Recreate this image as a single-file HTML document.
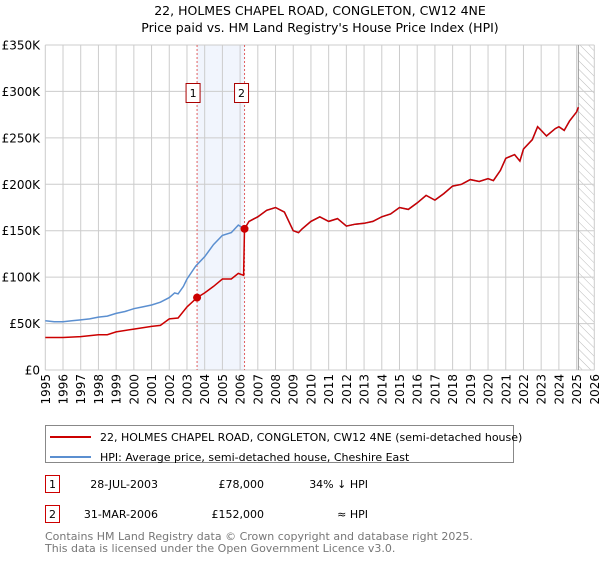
<!DOCTYPE html>
<html><head><meta charset="utf-8">
<style>
body{margin:0;background:#fff;font-family:"Liberation Sans","DejaVu Sans",sans-serif;}
svg text{font-family:"DejaVu Sans","Liberation Sans",sans-serif;}
</style></head>
<body>
<svg width="600" height="560" xmlns="http://www.w3.org/2000/svg">
<defs>
<pattern id="hatch" width="6" height="6" patternUnits="userSpaceOnUse" patternTransform="rotate(-45)">
<line x1="0" y1="0" x2="0" y2="6" stroke="#bbb" stroke-width="1"/>
</pattern>
</defs>
<text x="320" y="15" text-anchor="middle" font-size="12.5" fill="#000">22, HOLMES CHAPEL ROAD, CONGLETON, CW12 4NE</text>
<text x="320" y="32" text-anchor="middle" font-size="12.5" fill="#000">Price paid vs. HM Land Registry's House Price Index (HPI)</text>
<g id="plot"></g>
<g>
<rect x="45.5" y="425.5" width="468" height="37" fill="#fff" stroke="#888"/>
<line x1="50" y1="437" x2="91" y2="437" stroke="#cc0000" stroke-width="2"/>
<text x="100" y="441" font-size="11">22, HOLMES CHAPEL ROAD, CONGLETON, CW12 4NE (semi-detached house)</text>
<line x1="50" y1="457" x2="91" y2="457" stroke="#5b8fd0" stroke-width="2"/>
<text x="100" y="461" font-size="11">HPI: Average price, semi-detached house, Cheshire East</text>
</g>
<g font-size="11">
<rect x="45.5" y="475.5" width="14" height="17" fill="#fff" stroke="#cc0000"/>
<text x="52.5" y="488" text-anchor="middle">1</text>
<text x="158" y="488" text-anchor="end">28-JUL-2003</text>
<text x="264" y="488" text-anchor="end">£78,000</text>
<text x="368" y="488" text-anchor="end">34% ↓ HPI</text>
<rect x="45.5" y="505.5" width="14" height="17" fill="#fff" stroke="#cc0000"/>
<text x="52.5" y="518" text-anchor="middle">2</text>
<text x="158" y="518" text-anchor="end">31-MAR-2006</text>
<text x="264" y="518" text-anchor="end">£152,000</text>
<text x="368" y="518" text-anchor="end">≈ HPI</text>
</g>
<text x="45" y="540" font-size="11" fill="#777">Contains HM Land Registry data © Crown copyright and database right 2025.</text>
<text x="45" y="552" font-size="11" fill="#777">This data is licensed under the Open Government Licence v3.0.</text>
</svg>
<script>
const hpiYears=[1995,1995.5,1996,1996.5,1997,1997.5,1998,1998.5,1999,1999.5,2000,2000.5,2001,2001.5,2002,2002.3,2002.5,2002.8,2003,2003.5,2004,2004.5,2005,2005.5,2005.9,2006.25,2006.5,2007,2007.5,2008,2008.5,2009,2009.3,2009.5,2010,2010.5,2011,2011.5,2012,2012.5,2013,2013.5,2014,2014.5,2015,2015.5,2016,2016.5,2017,2017.5,2018,2018.5,2019,2019.5,2020,2020.3,2020.7,2021,2021.5,2021.8,2022,2022.5,2022.8,2023,2023.3,2023.8,2024,2024.3,2024.6,2025,2025.1];
const hpiValues=[53,52,52,53,54,55,57,58,61,63,66,68,70,73,78,83,82,90,98,112,122,135,145,148,156,152,160,165,172,175,170,150,148,152,160,165,160,163,155,157,158,160,165,168,175,173,180,188,183,190,198,200,205,203,206,204,215,228,232,225,238,248,262,258,252,260,262,258,268,278,283];
const priceYears=[1995,1996,1997,1998,1998.5,1999,2000,2001,2001.5,2002,2002.5,2003,2003.57,2004,2004.5,2005,2005.5,2005.9,2006.2,2006.25,2006.5,2007,2007.5,2008,2008.5,2009,2009.3,2009.5,2010,2010.5,2011,2011.5,2012,2012.5,2013,2013.5,2014,2014.5,2015,2015.5,2016,2016.5,2017,2017.5,2018,2018.5,2019,2019.5,2020,2020.3,2020.7,2021,2021.5,2021.8,2022,2022.5,2022.8,2023,2023.3,2023.8,2024,2024.3,2024.6,2025,2025.1];
const priceValues=[35,35,36,38,38,41,44,47,48,55,56,68,78,83,90,98,98,104,102,152,160,165,172,175,170,150,148,152,160,165,160,163,155,157,158,160,165,168,175,173,180,188,183,190,198,200,205,203,206,204,215,228,232,225,238,248,262,258,252,260,262,258,268,278,283];
const saleYears=[2003.57,2006.25];
const saleValues=[78,152];
const saleLabels=["1","2"];
const yTicks=[0,50,100,150,200,250,300,350];
const yTickLabels=["£0","£50K","£100K","£150K","£200K","£250K","£300K","£350K"];
const xTicks=[1995,1996,1997,1998,1999,2000,2001,2002,2003,2004,2005,2006,2007,2008,2009,2010,2011,2012,2013,2014,2015,2016,2017,2018,2019,2020,2021,2022,2023,2024,2025,2026];

const X0=45.3,X1=594.3,Y0=370,Y1=45,XMIN=1995,XMAX=2026,YMAX=350;
const xs=v=>X0+(v-XMIN)/(XMAX-XMIN)*(X1-X0);
const ys=v=>Y0-v/YMAX*(Y0-Y1);
const NS="http://www.w3.org/2000/svg";
const g=document.getElementById('plot');
function mk(t,a,p){const e=document.createElementNS(NS,t);for(const k in a)e.setAttribute(k,a[k]);(p||g).appendChild(e);return e;}
// shaded period
let sh=mk('rect',{x:xs(saleYears[0]),y:Y1,width:xs(saleYears[1])-xs(saleYears[0]),height:Y0-Y1,fill:'#eef3fc',opacity:0.8});


// hatch future
let ht=mk('rect',{x:xs(2025.1),y:Y1,width:X1-xs(2025.1),height:Y0-Y1,fill:'url(#hatch)'});


// grid
xTicks.forEach(t=>{
 let l=mk('line',{x1:xs(t),x2:xs(t),y1:Y1,y2:Y0,stroke:'#ccc','stroke-width':1});
 
 
 let tx=mk('text',{x:0,y:0,'font-size':12,'text-anchor':'end',transform:`translate(${xs(t)+4.5},374) rotate(-90)`});
 tx.textContent=t;
 
 
});
yTicks.forEach((t,i)=>{
 let l=mk('line',{x1:X0,x2:X1,y1:ys(t),y2:ys(t),stroke:'#ccc','stroke-width':1});
 
 
 let tx=mk('text',{x:40,y:ys(t)+4.5,'font-size':12,'text-anchor':'end'});
 tx.textContent=yTickLabels[i];
 
 
});
let nl=mk('line',{x1:xs(2025.1),x2:xs(2025.1),y1:Y1,y2:Y0,stroke:'#999','stroke-width':1});


// sale vlines
saleYears.forEach(s=>{
 let l=mk('line',{x1:xs(s),x2:xs(s),y1:Y1,y2:Y0,stroke:'#e06060','stroke-width':1,'stroke-dasharray':'2,2'});
 
 
});
function pts(a,b){return a.map((v,i)=>xs(v).toFixed(1)+','+ys(b[i]).toFixed(1)).join(' ');}
let hl=mk('polyline',{points:pts(hpiYears,hpiValues),fill:'none',stroke:'#5b8fd0','stroke-width':1.5});


let pl=mk('polyline',{points:pts(priceYears,priceValues),fill:'none',stroke:'#cc0000','stroke-width':1.5});


saleYears.forEach((s,i)=>{
 let c=mk('circle',{cx:xs(s),cy:ys(saleValues[i]),r:4,fill:'#cc0000'});
 
 
 let bx=xs(s)-10-(i===0?1:0);
 let r=mk('rect',{x:bx,y:83.5,width:14,height:19,fill:'#fff',stroke:'#aa0000'});
 
 
 let t=mk('text',{x:bx+7,y:97,'font-size':11,'text-anchor':'middle'});
 t.textContent=saleLabels[i];
 
 
});
</script>
</body></html>
